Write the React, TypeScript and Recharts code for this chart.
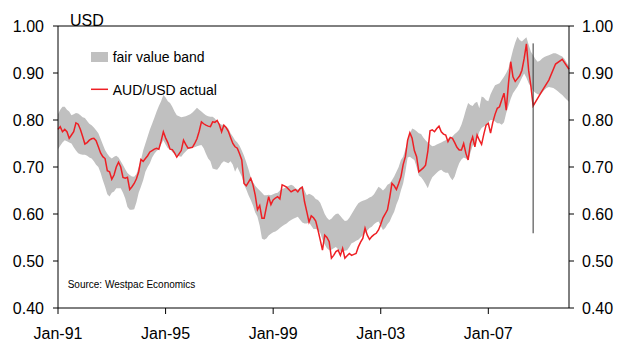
import { ComposedChart, Area, Line, XAxis, YAxis, ReferenceLine } from 'recharts'

// x is months since Jan-91
const xTicks = [0, 48, 96, 144, 192]
const xTickLabels = ['Jan-91', 'Jan-95', 'Jan-99', 'Jan-03', 'Jan-07']
const yTicks = [0.4, 0.5, 0.6, 0.7, 0.8, 0.9, 1.0]

// monthly AUD/USD, Jan-91 .. Sep-08
const actual = [
  0.780, 0.786, 0.775, 0.780, 0.775, 0.761, 0.768, 0.775, 0.794, 0.791, 0.780, 0.765,
  0.749, 0.752, 0.757, 0.760, 0.761, 0.756, 0.743, 0.730, 0.722, 0.718, 0.692, 0.690,
  0.674, 0.683, 0.700, 0.710, 0.700, 0.678, 0.676, 0.678, 0.652, 0.658, 0.665, 0.675,
  0.690, 0.716, 0.712, 0.718, 0.724, 0.732, 0.735, 0.738, 0.740, 0.738, 0.755, 0.775,
  0.762, 0.752, 0.738, 0.737, 0.730, 0.721, 0.728, 0.735, 0.757, 0.748, 0.740, 0.741,
  0.742, 0.750, 0.760, 0.776, 0.796, 0.792, 0.789, 0.787, 0.786, 0.796, 0.795, 0.799,
  0.790, 0.775, 0.789, 0.784, 0.776, 0.763, 0.750, 0.743, 0.740, 0.728, 0.715, 0.665,
  0.660, 0.668, 0.676, 0.662, 0.640, 0.609, 0.618, 0.591, 0.591, 0.615, 0.637, 0.620,
  0.630, 0.634, 0.637, 0.632, 0.662, 0.660, 0.657, 0.652, 0.647, 0.650, 0.652, 0.647,
  0.654, 0.657, 0.626, 0.605, 0.583, 0.596, 0.592, 0.585, 0.566, 0.545, 0.523, 0.555,
  0.550, 0.541, 0.506, 0.512, 0.520, 0.523, 0.512, 0.527, 0.506, 0.511, 0.516, 0.512,
  0.514, 0.516, 0.530, 0.540, 0.548, 0.570, 0.555, 0.546, 0.552, 0.556, 0.559, 0.566,
  0.578, 0.592, 0.600, 0.609, 0.635, 0.665, 0.660, 0.652, 0.665, 0.679, 0.705, 0.722,
  0.757, 0.773, 0.761, 0.735, 0.722, 0.690, 0.694, 0.698, 0.704, 0.733, 0.777, 0.779,
  0.775, 0.782, 0.787, 0.775, 0.770, 0.768, 0.754, 0.763, 0.761, 0.752, 0.742, 0.736,
  0.736, 0.750, 0.729, 0.715, 0.750, 0.764, 0.743, 0.768, 0.757, 0.748, 0.770, 0.789,
  0.793, 0.772, 0.795, 0.812, 0.825, 0.828, 0.843, 0.857, 0.821, 0.878, 0.924, 0.892,
  0.882, 0.888, 0.894, 0.906, 0.931, 0.962, 0.905, 0.872, 0.830,
]

// quarterly forecast path after the last actual
const forecastMonths = [216, 219, 222, 225, 228]
const forecastValues = [0.862, 0.885, 0.919, 0.929, 0.908]

// fair value band, Jan-91 .. Jan-10
const bandLow = [
  0.738, 0.745, 0.752, 0.757, 0.755, 0.752, 0.750, 0.742, 0.735, 0.729, 0.727, 0.726,
  0.726, 0.724, 0.720, 0.718, 0.712, 0.705, 0.700, 0.688, 0.672, 0.658, 0.642, 0.637,
  0.645, 0.648, 0.655, 0.655, 0.655, 0.645, 0.633, 0.615, 0.609, 0.609, 0.610, 0.625,
  0.645, 0.658, 0.672, 0.690, 0.700, 0.708, 0.720, 0.728, 0.734, 0.738, 0.748, 0.757,
  0.748, 0.740, 0.738, 0.732, 0.727, 0.725, 0.723, 0.722, 0.728, 0.733, 0.738, 0.740,
  0.742, 0.742, 0.744, 0.746, 0.747, 0.740, 0.728, 0.718, 0.712, 0.697, 0.695, 0.694,
  0.700, 0.708, 0.712, 0.710, 0.708, 0.712, 0.705, 0.690, 0.700, 0.690, 0.680, 0.662,
  0.652, 0.640, 0.630, 0.618, 0.603, 0.594, 0.575, 0.548, 0.545, 0.548, 0.554, 0.558,
  0.561, 0.563, 0.566, 0.570, 0.574, 0.577, 0.580, 0.584, 0.587, 0.590, 0.592, 0.594,
  0.588, 0.582, 0.580, 0.580, 0.582, 0.575, 0.568, 0.568, 0.566, 0.560, 0.545, 0.535,
  0.527, 0.523, 0.524, 0.527, 0.530, 0.525, 0.520, 0.520, 0.522, 0.523, 0.530, 0.538,
  0.540, 0.543, 0.545, 0.550, 0.555, 0.559, 0.565, 0.570, 0.573, 0.578, 0.582, 0.584,
  0.575, 0.566, 0.570, 0.578, 0.584, 0.595, 0.605, 0.620, 0.632, 0.650, 0.665, 0.690,
  0.720, 0.722, 0.718, 0.715, 0.700, 0.682, 0.678, 0.672, 0.664, 0.655, 0.668, 0.678,
  0.683, 0.688, 0.692, 0.694, 0.690, 0.688, 0.688, 0.678, 0.672, 0.680, 0.695, 0.708,
  0.716, 0.720, 0.718, 0.715, 0.730, 0.745, 0.750, 0.760, 0.775, 0.783, 0.786, 0.790,
  0.795, 0.800, 0.800, 0.797, 0.793, 0.793, 0.790, 0.795, 0.815, 0.830, 0.845, 0.857,
  0.864, 0.871, 0.880, 0.890, 0.899, 0.890, 0.878, 0.870, 0.862, 0.858, 0.855, 0.853,
  0.858, 0.864, 0.868, 0.870, 0.869, 0.868, 0.865, 0.861, 0.857, 0.853, 0.848, 0.843,
  0.839,
]

const bandHigh = [
  0.812, 0.822, 0.828, 0.828, 0.822, 0.818, 0.810, 0.812, 0.815, 0.814, 0.810, 0.806,
  0.804, 0.798, 0.792, 0.789, 0.784, 0.778, 0.772, 0.760, 0.748, 0.736, 0.728, 0.722,
  0.718, 0.722, 0.724, 0.720, 0.712, 0.704, 0.695, 0.687, 0.683, 0.680, 0.679, 0.685,
  0.700, 0.715, 0.735, 0.750, 0.765, 0.780, 0.792, 0.805, 0.818, 0.830, 0.840, 0.853,
  0.848, 0.840, 0.836, 0.828, 0.818, 0.810, 0.808, 0.806, 0.807, 0.808, 0.810, 0.812,
  0.816, 0.821, 0.826, 0.822, 0.818, 0.814, 0.810, 0.808, 0.807, 0.807, 0.803, 0.797,
  0.793, 0.790, 0.790, 0.786, 0.782, 0.772, 0.765, 0.757, 0.752, 0.745, 0.735, 0.724,
  0.710, 0.695, 0.678, 0.668, 0.660, 0.655, 0.650, 0.645, 0.640, 0.640, 0.641, 0.640,
  0.642, 0.644, 0.645, 0.650, 0.653, 0.655, 0.658, 0.660, 0.662, 0.660, 0.655, 0.652,
  0.656, 0.660, 0.650, 0.640, 0.643, 0.641, 0.638, 0.632, 0.630, 0.624, 0.612, 0.600,
  0.592, 0.587, 0.590, 0.596, 0.600, 0.601, 0.596, 0.590, 0.585, 0.586, 0.592, 0.600,
  0.608, 0.616, 0.623, 0.626, 0.628, 0.630, 0.632, 0.635, 0.637, 0.642, 0.650, 0.658,
  0.655, 0.650, 0.655, 0.662, 0.665, 0.672, 0.680, 0.690, 0.700, 0.715, 0.722, 0.738,
  0.755, 0.770, 0.782, 0.780, 0.776, 0.772, 0.770, 0.763, 0.757, 0.752, 0.748, 0.744,
  0.745, 0.748, 0.750, 0.752, 0.755, 0.757, 0.760, 0.763, 0.765, 0.770, 0.774, 0.779,
  0.790, 0.805, 0.822, 0.836, 0.832, 0.830, 0.836, 0.839, 0.825, 0.850, 0.848, 0.842,
  0.840, 0.855, 0.865, 0.874, 0.876, 0.878, 0.885, 0.892, 0.900, 0.910, 0.930, 0.949,
  0.965, 0.977, 0.970, 0.967, 0.972, 0.976, 0.960, 0.945, 0.938, 0.930, 0.924, 0.926,
  0.931, 0.934, 0.936, 0.938, 0.940, 0.942, 0.942, 0.940, 0.937, 0.935, 0.930, 0.922,
  0.915,
]

// marker at the last actual observation
const markerMonth = 212
const markerTop = 0.963
const markerBottom = 0.559

const data = bandLow.map((lo, m) => {
  const f = forecastMonths.indexOf(m)
  return {
    m,
    band: [lo, bandHigh[m]],
    aud: m < actual.length ? actual[m] : f >= 0 ? forecastValues[f] : null,
  }
})

const FONT = '"Liberation Sans", Arial, sans-serif'
const RED = '#ee1f24'
const BAND = '#c0c0c0'
const tickStyle = { fill: '#000', fontSize: 16, fontFamily: FONT }

export default function App() {
  return (
    <div style={{ position: 'absolute', left: 0, top: 0, width: 634, height: 342, fontFamily: FONT, background: '#fff' }}>
      <ComposedChart width={634} height={342} data={data} margin={{ top: 26, right: 0, bottom: 0, left: 0 }}>
        <XAxis
          type="number"
          dataKey="m"
          domain={[0, 228]}
          ticks={xTicks}
          interval={0}
          tickFormatter={(v: number) => xTickLabels[xTicks.indexOf(v)]}
          height={34}
          tickSize={6}
          tickMargin={14}
          stroke="#000"
          tick={tickStyle}
        />
        <YAxis
          yAxisId="l"
          domain={[0.4, 1]}
          ticks={yTicks}
          interval={0}
          width={58}
          tickSize={5}
          tickMargin={9}
          tickFormatter={(v: number) => v.toFixed(2)}
          stroke="#000"
          tick={tickStyle}
        />
        <YAxis
          yAxisId="r"
          orientation="right"
          domain={[0.4, 1]}
          ticks={yTicks}
          interval={0}
          width={65}
          tickSize={5}
          tickMargin={8}
          tickFormatter={(v: number) => v.toFixed(2)}
          stroke="#000"
          tick={tickStyle}
        />
        <ReferenceLine yAxisId="l" y={1} stroke="#000" />
        <Area
          yAxisId="l"
          dataKey="band"
          fill={BAND}
          fillOpacity={1}
          stroke="none"
          isAnimationActive={false}
        />
        <Line
          yAxisId="l"
          dataKey="aud"
          stroke={RED}
          strokeWidth={1.5}
          dot={false}
          connectNulls
          isAnimationActive={false}
        />
        {/* invisible twin so the right-hand axis gets its ticks */}
        <Line
          yAxisId="r"
          dataKey="aud"
          stroke="none"
          dot={false}
          activeDot={false}
          legendType="none"
          isAnimationActive={false}
        />
        <ReferenceLine
          yAxisId="l"
          segment={[{ x: markerMonth, y: markerTop }, { x: markerMonth, y: markerBottom }]}
          stroke="#333"
          strokeWidth={1}
        />
      </ComposedChart>

      <div style={{ position: 'absolute', left: 70, top: 12.6, fontSize: 16, lineHeight: '16px', color: '#000' }}>USD</div>

      <svg style={{ position: 'absolute', left: 91, top: 50 }} width={18} height={44}>
        <rect x={0} y={2} width={17} height={10} fill={BAND} />
        <line x1={0} x2={17} y1={39.3} y2={39.3} stroke={RED} strokeWidth={1.5} />
      </svg>
      <div style={{ position: 'absolute', left: 112.7, top: 50.3, fontSize: 14, lineHeight: '14px', color: '#000', whiteSpace: 'nowrap' }}>
        fair value band
      </div>
      <div style={{ position: 'absolute', left: 112.7, top: 82.6, fontSize: 14, lineHeight: '14px', color: '#000', whiteSpace: 'nowrap' }}>
        AUD/USD actual
      </div>

      <div style={{ position: 'absolute', left: 67.7, top: 279.6, fontSize: 10, lineHeight: '10px', color: '#000', whiteSpace: 'nowrap' }}>
        Source: Westpac Economics
      </div>
    </div>
  )
}
